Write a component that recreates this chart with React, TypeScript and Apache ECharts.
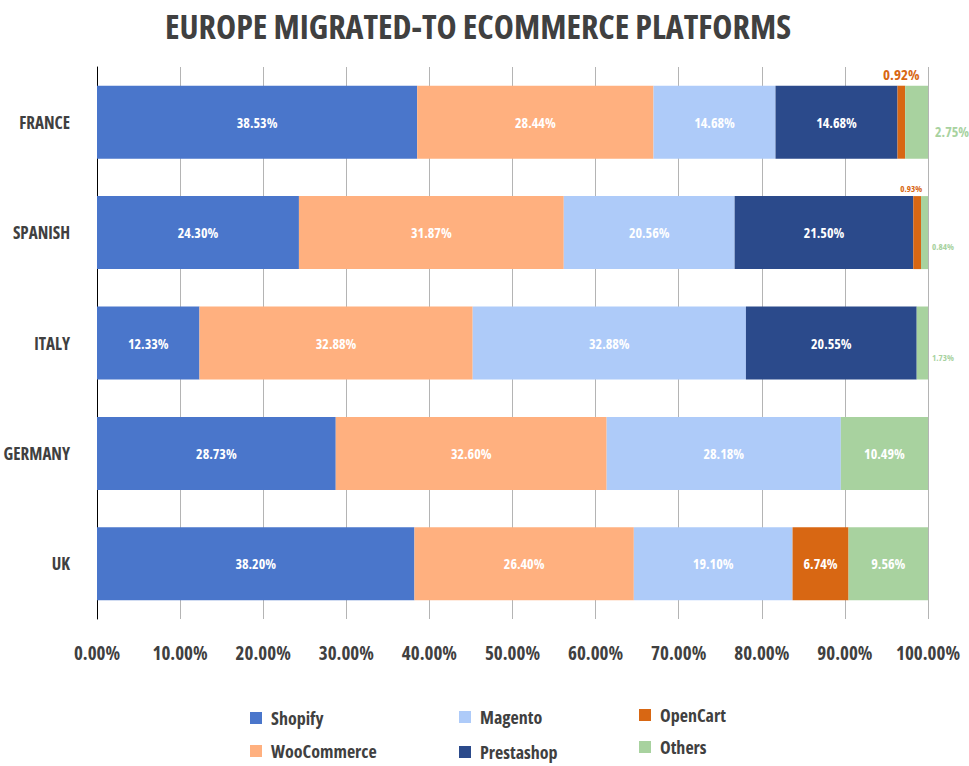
import React, { useEffect, useRef } from "react";
import * as echarts from "echarts";

const countries = ["FRANCE", "SPANISH", "ITALY", "GERMANY", "UK"];
const shopify = [38.53, 24.3, 12.33, 28.73, 38.2];
const wooCommerce = [28.44, 31.87, 32.88, 32.6, 26.4];
const magento = [14.68, 20.56, 32.88, 28.18, 19.1];
const prestashop = [14.68, 21.5, 20.55, 0, 0];
const openCart = [0.92, 0.93, 0, 0, 6.74];
const others = [2.75, 0.84, 1.73, 10.49, 9.56];
const xTicks = [0, 10, 20, 30, 40, 50, 60, 70, 80, 90, 100];
const TITLE = "EUROPE MIGRATED-TO ECOMMERCE PLATFORMS";

const FONT = "'Open Sans', sans-serif";
const TXT = "#404040";

const colors = {
  Shopify: "#4a76cb",
  WooCommerce: "#ffb07f",
  Magento: "#aecbf9",
  Prestashop: "#2b4a8b",
  OpenCart: "#d86713",
  Others: "#a8d29f",
};

const fmt = (v: number) => (v ? v.toFixed(2) + "%" : "");

let measureCtx: any = null;
try {
  measureCtx = document.createElement("canvas").getContext("2d");
  (echarts as any).setPlatformAPI({
    measureText: (text: string, font?: string) => {
      if (font) measureCtx.font = font;
      try {
        measureCtx.fontStretch = "condensed";
      } catch (e) {}
      return measureCtx.measureText(text);
    },
  });
} catch (e) {}

export default function App() {
  const ref = useRef<HTMLDivElement>(null);
  useEffect(() => {
    if (!ref.current) return;
    const chart = echarts.init(ref.current, undefined, { renderer: "svg" });
    const baseLabel = {
      show: true,
      position: "inside",
      color: "#ffffff",
      fontFamily: FONT,
      fontWeight: "bold",
      fontSize: 14,
      formatter: (p: any) => fmt(p.value),
    };
    const mk = (name: string, vals: number[], special?: (i: number, v: number) => any) => ({
      name,
      type: "bar",
      stack: "total",
      barWidth: 73,
      itemStyle: { color: (colors as any)[name] },
      label: baseLabel,
      data: vals.map((v, i) => {
        const s = special ? special(i, v) : null;
        return s ? { value: v, label: { ...baseLabel, ...s } } : v;
      }),
    });
    chart.setOption({
      animation: false,
      title: {
        text: TITLE,
        left: 473,
        textAlign: "center",
        top: 4,
        textStyle: { fontFamily: FONT, fontWeight: "bold", fontSize: 34, color: TXT },
      },
      grid: { left: 97, right: 41, top: 67, bottom: 147, outerBoundsMode: "none" },
      legend: [
        {
          orient: "vertical", left: 245, top: 704, itemWidth: 12, itemHeight: 12, itemGap: 15, icon: "rect",
          textStyle: { fontFamily: FONT, fontWeight: "bold", fontSize: 18, color: TXT, padding: [0, 0, 0, 4] },
          data: ["Shopify", "WooCommerce"],
        },
        {
          orient: "vertical", left: 454, top: 703, itemWidth: 12, itemHeight: 12, itemGap: 17, icon: "rect",
          textStyle: { fontFamily: FONT, fontWeight: "bold", fontSize: 18, color: TXT, padding: [0, 0, 0, 4] },
          data: ["Magento", "Prestashop"],
        },
        {
          orient: "vertical", left: 634, top: 701, itemWidth: 12, itemHeight: 12, itemGap: 14, icon: "rect",
          textStyle: { fontFamily: FONT, fontWeight: "bold", fontSize: 18, color: TXT, padding: [0, 0, 0, 4] },
          data: ["OpenCart", "Others"],
        },
      ],
      xAxis: {
        type: "value",
        min: 0,
        max: 100,
        interval: 10,
        axisLine: { show: false },
        axisTick: { show: false },
        splitLine: { show: true, lineStyle: { color: "#b4b4b4", width: 1 } },
        axisLabel: {
          margin: 24,
          fontFamily: FONT,
          fontWeight: "bold",
          fontSize: 19,
          color: TXT,
          hideOverlap: false,
          customValues: xTicks,
          formatter: (v: number) => v.toFixed(2) + "%",
        },
      },
      yAxis: {
        type: "category",
        inverse: true,
        data: countries,
        axisLine: { show: true, lineStyle: { color: "#000000", width: 1 } },
        axisTick: { show: false },
        splitLine: { show: false },
        axisLabel: {
          margin: 27,
          fontFamily: FONT,
          fontWeight: "bold",
          fontSize: 17,
          color: TXT,
        },
      },
      series: [
        mk("Shopify", shopify),
        mk("WooCommerce", wooCommerce),
        mk("Magento", magento),
        mk("Prestashop", prestashop),
        mk("OpenCart", openCart, (i) => {
          if (i === 0) return { position: "top", distance: 4, color: colors.OpenCart, fontSize: 15 };
          if (i === 1) return { position: "top", distance: 3, color: colors.OpenCart, fontSize: 9, offset: [-6, 0] };
          return null;
        }),
        mk("Others", others, (i) => {
          if (i === 0) return { position: "right", distance: 7, color: colors.Others, fontSize: 14, offset: [0, 9] };
          if (i === 1 || i === 2) return { position: "right", distance: 4, color: colors.Others, fontSize: 9, offset: [0, 14] };
          return null;
        }),
      ],
    });
    return () => chart.dispose();
  }, []);
  return (
    <>
      <style>{"#chart text { font-stretch: condensed !important; }"}</style>
      <div
        id="chart"
        ref={ref}
        style={{ position: "absolute", left: 0, top: 0, width: 969, height: 766 }}
      />
    </>
  );
}
